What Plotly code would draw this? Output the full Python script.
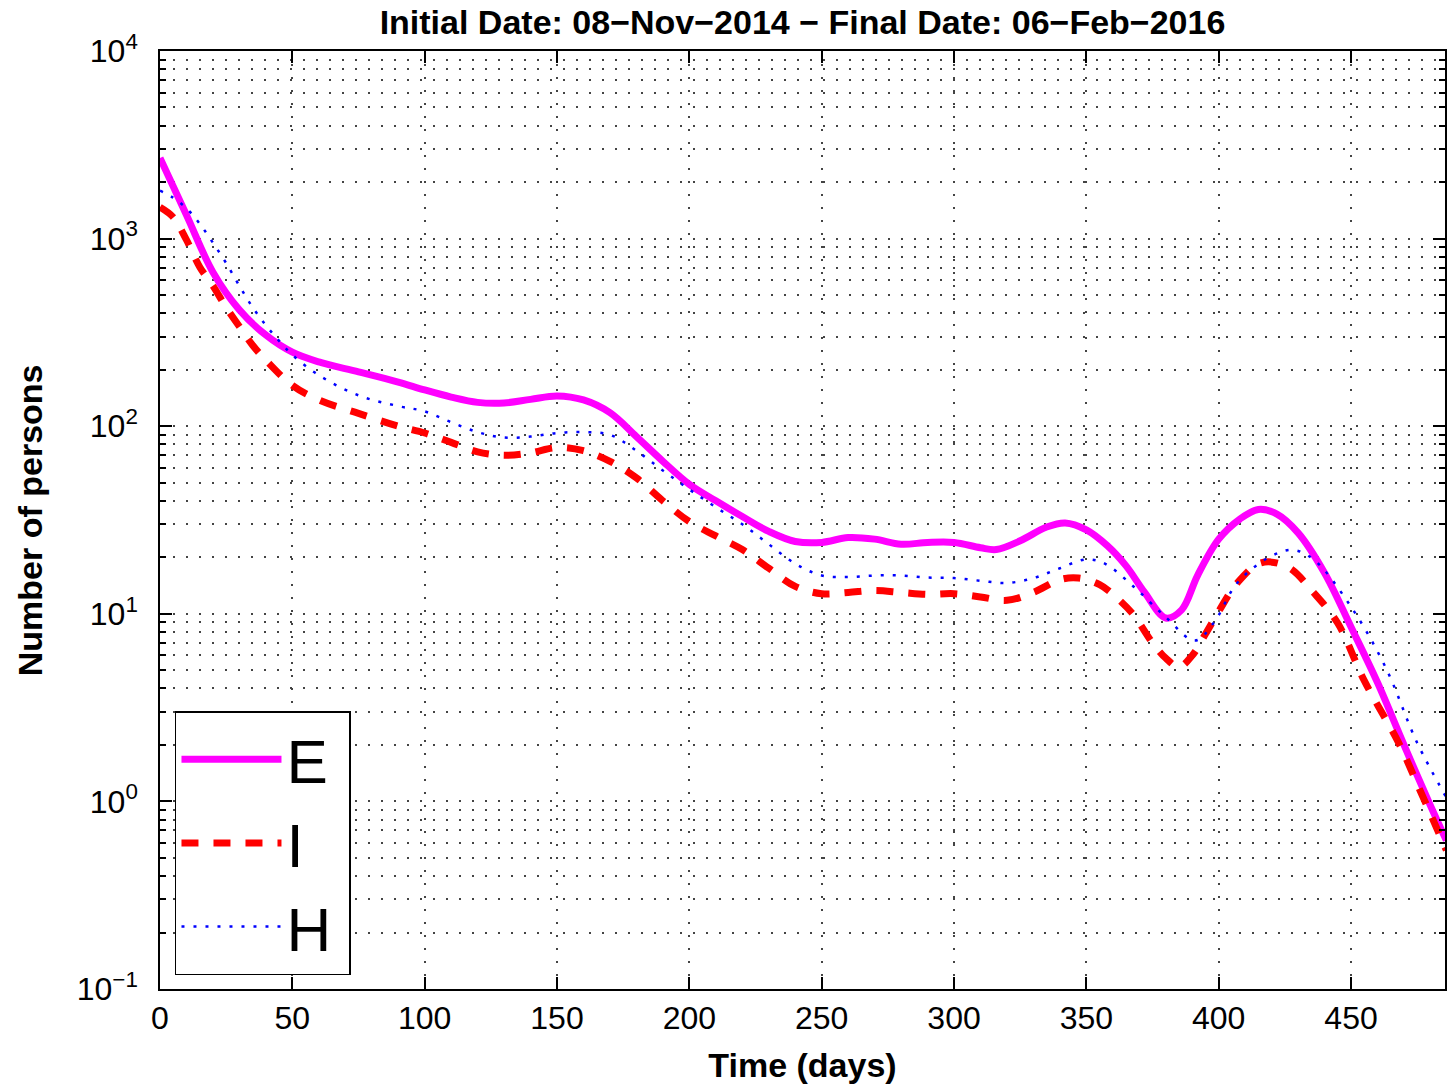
import plotly.graph_objects as go

# ---------------- data ----------------
t_E = [0, 10, 20, 30, 40, 50, 60, 75, 90, 100, 110, 120, 130, 140, 150, 160, 170, 180, 190, 200,
       210, 220, 230, 240, 250, 260, 270, 280, 290, 300, 310, 316, 325, 335, 342, 350, 358, 365,
       372, 380, 386, 392, 400, 408, 415, 422, 430, 440, 450, 460, 470, 480, 486]
v_E = [2690, 1336, 662, 417, 306, 248, 220, 195, 172, 156, 143, 134, 133, 139, 145, 138, 118, 88, 65, 49,
       40, 33, 27.5, 24.3, 24, 25.5, 25, 23.5, 24, 24, 22.5, 22, 24.5, 29, 30.5, 28, 23, 18,
       13, 9.5, 10.5, 16, 25, 32, 36, 34, 27, 16.5, 8.5, 4.3, 2.0, 0.95, 0.62]

t_I = [0, 5, 10, 15, 20, 25, 30, 35, 40, 50, 60, 75, 90, 100, 110, 120, 130, 140, 150, 160,
       170, 180, 190, 200, 210, 220, 230, 240, 250, 260, 270, 280, 290, 300, 310, 320, 330, 340,
       347, 355, 362, 368, 375, 380, 385, 390, 395, 400, 407, 416, 426, 436, 445, 455, 468, 476, 486]
v_I = [1470, 1300, 984, 706, 560, 430, 340, 270, 225, 165, 138, 117, 100, 92, 82, 73, 70, 72, 77, 74,
       65, 53, 40, 31, 26, 22, 17.5, 14, 12.8, 13, 13.3, 13, 12.7, 12.8, 12.3, 11.8, 13, 15.2,
       15.5, 14.3, 12, 9.8, 7, 5.8, 5.2, 6, 7.8, 10.3, 14.6, 18.7, 17.8, 12.9, 8.9, 4.4, 2.05, 1.15, 0.55]

t_H = [0, 5, 10, 15, 20, 25, 30, 35, 40, 45, 50, 60, 75, 90, 100, 110, 120, 130, 140, 150, 160,
       170, 180, 190, 200, 210, 220, 230, 240, 250, 260, 270, 280, 290, 300, 310, 320, 330, 340,
       350, 357, 368, 380, 391, 398, 407, 419, 428, 436, 450, 463, 475, 486]
v_H = [1800, 1650, 1450, 1200, 950, 740, 560, 430, 345, 285, 240, 187, 146, 128, 120, 105, 93, 87, 88, 92, 93,
       90, 74, 58, 46, 37, 30, 23.5, 18.5, 16, 15.7, 16, 16, 15.6, 15.5, 15, 14.6, 15.5, 17.5,
       19.5, 18.5, 13.9, 9.6, 7.2, 8.9, 14.6, 20, 21.9, 19.4, 10.9, 5.2, 2.05, 1.05]

x_ticks = [0, 50, 100, 150, 200, 250, 300, 350, 400, 450]
y_exps = [-1, 0, 1, 2, 3, 4]
y_ticks = [10.0 ** e for e in y_exps]
y_ticktext = [("10<sup>%s</sup>" % (("\u2212%d" % -e) if e < 0 else str(e))) for e in y_exps]
y_minor = [k * 10.0 ** e for e in y_exps[:-1] for k in range(2, 10)]

title_text = "Initial Date: 08\u2212Nov\u22122014 \u2212 Final Date: 06\u2212Feb\u22122016"
x_title = "Time (days)"
y_title = "Number of persons"

FONT = "Liberation Sans, Arial, Helvetica, sans-serif"
GRID_DASH = "2px,11px"
GRID_COLOR = "#444444"

fig = go.Figure()
fig.add_trace(go.Scatter(x=t_E, y=v_E, name="E\u2009", mode="lines",
                         line=dict(color="#FF00FF", width=7, shape="spline", smoothing=1.0)))
fig.add_trace(go.Scatter(x=t_I, y=v_I, name="I", mode="lines",
                         line=dict(color="#FF0000", width=7, dash="17px,15px", shape="spline", smoothing=1.0)))
fig.add_trace(go.Scatter(x=t_H, y=v_H, name="H\u2009", mode="lines",
                         line=dict(color="#0000FF", width=2.5, dash="3px,9px", shape="spline", smoothing=1.0)))

fig.update_layout(
    width=1448, height=1085,
    margin=dict(l=160, r=1, t=51, b=96),
    paper_bgcolor="white", plot_bgcolor="white",
    font=dict(family=FONT, color="black", size=30),
    title=dict(text="<b>" + title_text + "</b>", x=0.5, xref="paper", xanchor="center",
               y=1 - 22 / 1085, yref="container", yanchor="middle",
               font=dict(size=34, family=FONT, color="black")),
    legend=dict(x=15 / 1287, y=14 / 938, xanchor="left", yanchor="bottom",
                bgcolor="white", bordercolor="black", borderwidth=1.5,
                font=dict(size=62, family=FONT, color="black"),
                itemwidth=100, tracegroupgap=0),
    showlegend=True,
    annotations=[dict(text="<b>" + y_title + "</b>", textangle=-90, showarrow=False,
                      xref="paper", yref="paper", x=-(160 - 30) / 1287, y=0.5,
                      xanchor="center", yanchor="middle",
                      font=dict(size=34, family=FONT, color="black"))],
)

fig.update_xaxes(
    range=[0, 485.5], tickmode="array", tickvals=x_ticks,
    ticks="inside", ticklen=12, tickwidth=1.5, tickcolor="black",
    showline=True, linecolor="black", linewidth=1.5, mirror="allticks",
    showgrid=True, gridcolor=GRID_COLOR, gridwidth=1.5, griddash=GRID_DASH,
    zeroline=False, ticklabelstandoff=0,
    tickfont=dict(size=32, family=FONT, color="black"),
    title=dict(text="<b>" + x_title + "</b>", font=dict(size=34, family=FONT, color="black"), standoff=18),
)
fig.update_yaxes(
    type="log", range=[-1, 4], tickmode="array", tickvals=y_ticks, ticktext=y_ticktext,
    ticks="inside", ticklen=12, tickwidth=1.5, tickcolor="black",
    showline=True, linecolor="black", linewidth=1.5, mirror="allticks",
    showgrid=True, gridcolor=GRID_COLOR, gridwidth=1.5, griddash=GRID_DASH,
    zeroline=False, ticklabelstandoff=14,
    minor=dict(tickmode="array", tickvals=y_minor, ticks="inside", ticklen=6, tickwidth=1.5,
               tickcolor="black", showgrid=True, gridcolor=GRID_COLOR, gridwidth=1.5, griddash=GRID_DASH),
    tickfont=dict(size=32, family=FONT, color="black"),
)

fig.write_html("out.html")
